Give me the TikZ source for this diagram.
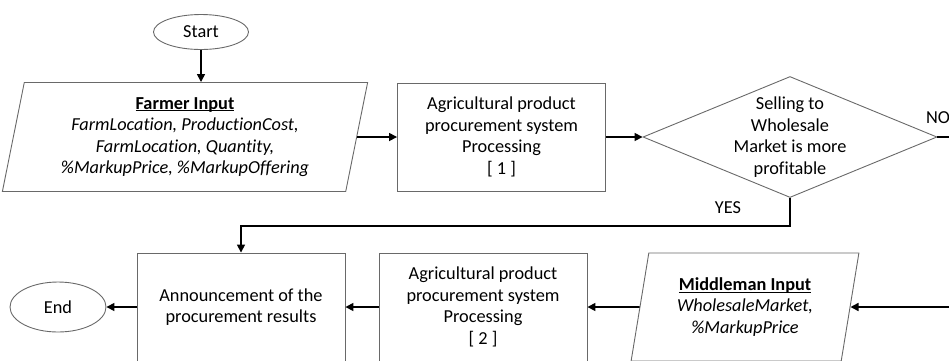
\documentclass[tikz,border=0pt]{standalone}
\usepackage{fontspec}
\setmainfont{Carlito}[Ligatures=NoCommon]
\usetikzlibrary{shapes.geometric,arrows.meta}
\definecolor{boxgray}{RGB}{105,105,105}
\newcommand{\headline}[1]{\underline{\raisebox{0pt}[\height][0pt]{\textbf{#1}}}}

\begin{document}
\begin{tikzpicture}[x=1pt, y=-1pt,
    every node/.style={font=\fontsize{18.3}{21.5}\selectfont},
    box/.style={draw=boxgray, line width=0.9pt, minimum width=208pt, minimum height=108pt, align=center, inner sep=0pt},
    iobox/.style={draw=boxgray, line width=0.9pt, trapezium, trapezium left angle=78, trapezium right angle=102, trapezium stretches=true, align=center, inner sep=0pt},
    term/.style={draw=boxgray, line width=0.9pt, ellipse, inner sep=0pt},
    decision/.style={draw=boxgray, line width=0.9pt, diamond, minimum width=294pt, minimum height=121pt, inner sep=0pt},
    flow/.style={line width=1.6pt, -{Triangle[length=8pt,width=8pt]}},
    plain/.style={line width=1.6pt}]
    \useasboundingbox (0,0) rectangle (949,360);

    \node (start) at (201,32)[term, minimum width=95pt, minimum height=35pt]{Start};
    \node (farmer) at (185,137)[iobox, minimum width=366pt, minimum height=109pt]{\headline{Farmer Input}\\
        \textit{FarmLocation, ProductionCost,}\\ \textit{FarmLocation, Quantity,}\\ \textit{\%MarkupPrice, \%MarkupOffering}};
    \node (proc1) at (501.5,137)[box]{Agricultural product\\procurement system\\Processing\\{}[ 1 ]};
    \node (dec) at (790,137)[decision]{};
    \node (dectext) at (dec)[align=center]{Selling to\\Wholesale\\Market is more\\profitable};
    \node (no) at (938,118){NO};
    \node (yes) at (728,208){YES};

    \node (annc) at (241,307)[box]{Announcement of the\\procurement results};
    \node (proc2) at (483,307)[box]{Agricultural product\\procurement system\\Processing\\{}[ 2 ]};
    \node (mid) at (745,307)[iobox, minimum width=228pt, minimum height=108pt]{\headline{Middleman Input}\\
        \textit{WholesaleMarket,}\\ \textit{\%MarkupPrice}};
    \node (end) at (58,307)[term, minimum width=96pt, minimum height=50pt]{End};

    \coordinate (yesturn) at (790,226);
    \coordinate (noout) at (949,137);
    \coordinate (noin) at (949,307);

    \draw[flow] (start.south) -- (start.south |- farmer.north);
    \draw[flow] (farmer.east) -- (proc1.west);
    \draw[flow] (proc1.east) -- (dec.west);
    \draw[plain] (dec.east) -- (noout);
    \draw[flow] (dec.south) -- (yesturn) -| (annc.north);
    \draw[flow] (noin) -- (mid.east);
    \draw[flow] (mid.west) -- (proc2.east);
    \draw[flow] (proc2.west) -- (annc.east);
    \draw[flow] (annc.west) -- (end.east);
\end{tikzpicture}
\end{document}
